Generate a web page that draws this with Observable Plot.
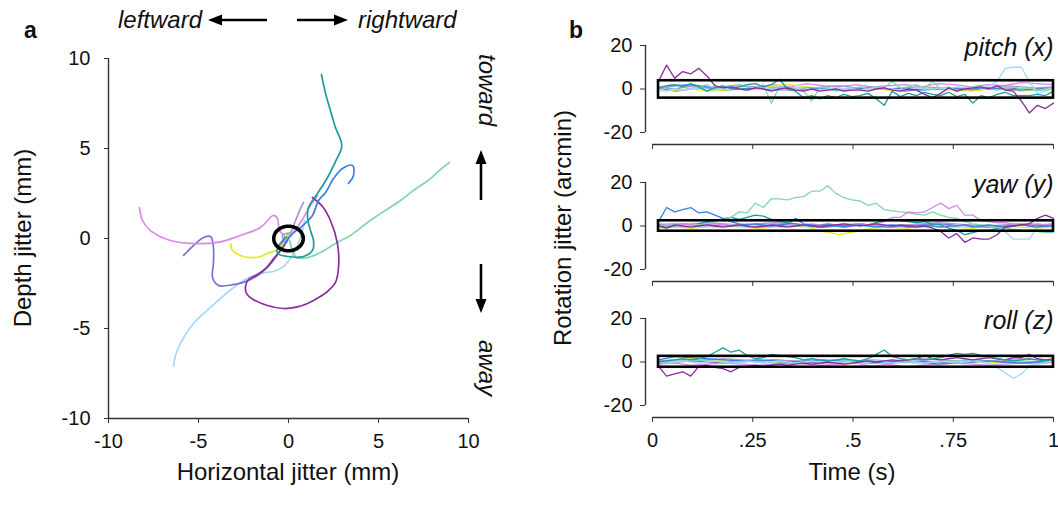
<!DOCTYPE html>
<html><head><meta charset="utf-8">
<script src="https://cdn.jsdelivr.net/npm/d3@7"></script>
<script src="https://cdn.jsdelivr.net/npm/@observablehq/plot@0.6"></script>
<style>
body{margin:0;background:#fff;}
#root{position:relative;width:1058px;height:519px;overflow:hidden;background:#fff;font-family:"Liberation Sans",Arial,sans-serif;}
#root svg{position:absolute;overflow:visible;}
</style></head>
<body><div id="root"></div>
<script>
// ---------- Panel a: trajectories (mm) ----------
const trajPurple = [[-0.06,-0.11],[-0.44,-0.67],[-0.78,-1.06],[-1.22,-1.61],[-1.72,-2.0],[-2.22,-2.28],[-2.39,-2.67],[-2.33,-3.06],[-2.0,-3.36],[-1.17,-3.72],[-0.28,-3.89],[0.5,-3.8],[1.06,-3.61],[1.72,-3.25],[2.22,-2.89],[2.61,-2.44],[2.78,-1.61],[2.72,-0.28],[2.33,1.0],[1.89,1.78],[1.33,2.28]];
const trajViolet = [[-8.28,1.72],[-8.11,1.0],[-7.67,0.44],[-6.56,-0.11],[-5.28,-0.28],[-3.94,-0.22],[-2.67,0.17],[-1.56,0.61],[-0.83,1.28],[-0.61,1.11],[-0.5,0.44],[-0.22,0.11],[-0.6,-0.6],[-0.3,-0.2],[0,0],[0.67,0.89],[1.22,1.83],[1.61,2.39]];
const trajSlate = [[-5.83,-0.94],[-5.28,-0.39],[-4.72,0.06],[-4.33,0.11],[-4.17,-0.5],[-4.17,-1.39],[-4.22,-2.17],[-3.89,-2.61],[-3.39,-2.61],[-2.5,-2.44],[-1.72,-2.06],[-1.17,-1.61],[-0.72,-1.06],[-0.28,-0.39],[0,0]];
const trajLavender = [[-0.17,-0.28],[-0.33,0.2],[0.11,0.33],[0.39,1.0],[0.67,1.67],[0.83,2.0]];
const trajYellow = [[-3.22,-0.28],[-3.11,-0.67],[-2.67,-0.94],[-2.11,-1.06],[-1.56,-1.0],[-1.17,-0.83],[-0.72,-0.67],[-0.33,-0.39],[-0.11,0.06],[-0.06,0.33],[0.06,0.11]];
const trajBlue = [[-0.2,-0.3],[0.11,0.17],[0.67,0.61],[1.33,1.28],[1.67,2.11],[2.06,2.56],[2.5,3.33],[3.0,3.89],[3.56,4.06],[3.61,3.5],[3.33,3.06]];
const trajTeal = [[-0.1,0.1],[-0.6,-0.5],[-0.6,-0.83],[-0.06,-1.0],[0.83,-1.0],[1.33,-0.67],[1.39,-0.11],[1.22,0.44],[1.06,1.17],[1.11,1.72],[1.61,2.5],[2.17,3.39],[2.72,4.5],[2.94,5.0],[2.94,5.33],[2.61,6.17],[2.33,7.11],[2.06,8.06],[1.83,9.11]];
const trajMint = [[0.06,-0.11],[0.22,-0.67],[0.44,-1.06],[1.06,-1.06],[1.78,-0.78],[2.61,-0.28],[3.44,0.17],[4.39,0.89],[5.11,1.39],[6.22,2.11],[6.94,2.67],[7.89,3.33],[8.44,3.83],[8.94,4.22]];
const trajSky = [[-6.39,-7.11],[-6.28,-6.5],[-6.0,-5.83],[-5.28,-4.72],[-4.33,-3.83],[-3.39,-3.0],[-2.5,-2.33],[-1.56,-1.94],[-0.83,-1.83],[-0.28,-1.56],[0.22,-0.94],[0.56,-0.22],[0.78,0.44],[0.89,1.0]];
const ellipseCenter = [0, 0];
const ellipseRadii = [0.82, 0.68];
const axisTicksA = [-10, -5, 0, 5, 10];

// ---------- Panel b: rotation jitter (arcmin), sampled uniformly over time ----------
const pitchPurple = [3.5,11,5,8,7,9.5,6,1.5,0.5,1, 0,-0.5,0.5,0,-1,0,0.5,-0.5,-1,0, -1,-0.5,0,-1,-0.5,-0.5,-1,0,0.5,-0.5, -1,0,-0.5,-2.5,-4,-2,0.5,-1,0,0.5, 1,0,1.5,-0.5,-1,-5.5,-11,-7.5,-9,-6.5];
const pitchTeal = [0,1.5,2,1,2.5,1,-1,0.5,1.5,0, 1,2,2.5,1,2,4.5,0,-1,-4,-3, -4.5,-3,-4,-2.5,-3.5,-3,-2,-4.5,-7.5,-1, -3.5,-2,-3,-1.5,-2.5,-3,-1.5,-3.5,-2.5,-6.5, -3,-4,-2.5,-1.5,-3,-3,-3,-2.5,-3,-1];
const pitchMint = [0,1,2,1,0,1,2,0,1,1.5, 2,1,0.5,2,-6.5,1,0.5,0,-1,-5.5, 0.5,1,-1,0,0.5,1,0,1,0.5,3.5, 0.5,1,2,0.5,3.5,0,1,-1,0,0.5, 1,0,-0.5,0,1,0,0.5,-0.5,0,0.5];
const pitchSky = [0,-1,0,-0.5,0,0.5,0,-0.5,0,0.5, 0,-0.5,0,0.5,0,0,-0.5,0,0.5,0, -0.5,0,0.5,0,0,-0.5,0,0.5,0,0, -0.5,0,0.5,0,0,0.5,0,1,0.5,1, 0.5,1.5,3.5,9.5,10,10,3.5,-2,-1,0.5];
const pitchViolet = [1,2,1,0.5,1,1.5,1,2,1,2.5,1.5,1,2,1,1.5,2,1,2.5,2,1,2,1.5,3,2.5,2];
const pitchSlate = [0.5,-1,0,0.5,-0.5,0,0.5,0,-0.5,0,0.5,-0.5,0,0.5,0,-1,0,0.5,0,-0.5,0,0.5,0,-0.5,0];
const pitchLavender = [1,0,1.5,0.5,1,0,0.5,1,0.5,0,1,1.5,0.5,1,0,0.5,1,0.5,0,1,0.5,1.5,1,0.5,1];
const pitchYellow = [-1,-0.5,0,-1,-0.5,0.5,0,1.5,2,1,0,-0.5,0.5,0,-0.5,0,0.5,0,-0.5,-1,0,0.5,-1,0,-0.5];
const pitchBlue = [0.5,1.5,2,1,0.5,0,0.5,-0.5,0,0.5,0,-0.5,0,0.5,0,0.5,-0.5,0,0.5,0,0.5,0,-0.5,0,0.5];

const yawBlue = [2,8.5,6.5,7.5,8.5,6,6.5,5,3.5,2, 1,0.5,1,0.5,0,0.5,1,3.5,1,0.5, 0,0.5,0,-0.5,0,0.5,0,-0.5,0,0.5, 0,-0.5,0,0.5,0,-0.5,0,0,0.5,-0.5, 0,0.5,0,-0.5,0,0.5,0,-0.5,0,0];
const yawMint = [0,0.5,1,0.5,1,0.5,1,2,3.5,4, 6.5,6,10.5,8.5,12.5,12.5,12,13,13.5,16, 16,18.5,15,13,12,11.5,9.5,10.5,7.5,7, 6.5,6,5.5,5,6.5,5,4,3.5,2,1, 0.5,0,-0.5,-1,-1.5,-2,-2.5,-2.5,-3,-3];
const yawViolet = [0,0.5,0,1,0.5,0,0.5,1,0.5,0, 0.5,1,0.5,0,0.5,1,0.5,0,0.5,1, 0.5,0,0.5,1,0.5,1,0.5,1,2,4, 4,6.5,6,6.5,8.5,10.5,8,9.5,5,5, 2.5,2,1.5,1.5,1,1,0.5,1,0.5,0.5];
const yawPurple = [0,-1,0.5,0,-0.5,0,0.5,0,-0.5,0, 0.5,0,-0.5,0,0.5,0,-0.5,0,0.5,0, -0.5,0,0.5,1,0.5,0,0.5,1,0.5,0, 0.5,0,-0.5,0,-1,-2.5,-5.5,-3.5,-7.5,-5.5, -6,-6,-4,-0.5,0,0.5,1,3.5,5,3.5];
const yawTeal = [0,-0.5,0,1,0.5,1,2,2.5,3,4, 3,4,5,4.5,3,2,1.5,1,0.5,0, 0.5,1,0.5,0,0.5,1,0.5,1.5,2.5,3, 2.5,2,1.5,2,1,0.5,-1,-2,-4,-3, -2,-2,-1,-0.5,0,0.5,1,0.5,0,0.5];
const yawSky = [0,0.5,0,-0.5,0,0.5,0,-0.5,0,0.5, 0,-0.5,0,0.5,0,-0.5,0,0.5,0,-0.5, 0,0.5,0,-0.5,0,0.5,0,-0.5,0,0.5, 0,-0.5,0,0.5,0,-0.5,0,0.5,0,-0.5, 0,0.5,-0.5,-2.5,-6,-6,-6,-0.5,0,0.5];
const yawYellow = [-1,-0.5,-1,-0.5,0,-0.5,-1,-0.5,0,-0.5,-2.5,-4,-2.5,-1,-0.5,-1,-0.5,0,-0.5,-1,-0.5,0,-0.5,-1,-0.5];
const yawSlate = [0.5,1,0.5,0,0.5,0,-0.5,0,0.5,0,-0.5,0,0.5,0,-0.5,0,0.5,1,0.5,0,-0.5,0,0.5,0,0.5];
const yawLavender = [1,0.5,1,1.5,1,0.5,1,1.5,1,0.5,0,0.5,1,0.5,0,0.5,1,1.5,1,0.5,0,0.5,1,0.5,1];

const rollTeal = [0,0.5,1,1.5,1,1.5,2.5,4.5,6.5,4.5, 5.5,3,1.5,2,3.5,3,2.5,2,1,1.5, 1,0.5,1,1.5,1,0.5,1.5,3.5,5.5,2.5, 1.5,1,1.5,1,1.5,2,3,4,3.5,4, 3,2.5,1.5,1,0.5,1,1.5,1,0.5,1];
const rollPurple = [-2,-6.5,-5.5,-4.5,-6.5,-2,-1.5,-2.5,-3,-4.5, -2.5,-2,-1.5,-2,-1.5,-1,-1.5,-1,-0.5,-1, -0.5,0,-0.5,-1,-0.5,0,0.5,0,0.5,1, 0.5,1,1.5,3,1.5,1,1.5,2,1.5,1, 1.5,2,1.5,1,2,2,3.5,1.5,1,1.5];
const rollSky = [0,-0.5,0,0.5,0,-0.5,0,0.5,0,-0.5, 0,0.5,0,-0.5,0,0.5,0,-0.5,0,0.5, 0,-0.5,0,0.5,0,-0.5,0,0.5,0,-0.5, 0,0.5,0,-0.5,0,0.5,0,-0.5,0,0.5, 0,-0.5,-2.5,-5,-7.5,-5.5,-2,-1,0,0.5];
const rollBlue = [1,2.5,2,1.5,1,0.5,1,0.5,0,0.5,1,0.5,0,-0.5,0,0.5,0,-1,-0.5,0,0.5,0,-0.5,0,0.5];
const rollViolet = [-1,-0.5,-1.5,-1,-0.5,-1,-1.5,-1,-0.5,-1,-1.5,-1,-0.5,-2,-1,-2.5,-1.5,-1,-0.5,-1,-1.5,-1,-0.5,-1,0];
const rollYellow = [0.5,1,1.5,1,0.5,1,0.5,0,-0.5,0,-0.5,-1,-0.5,0,0.5,0,-0.5,0,0.5,0,-0.5,0,0.5,0,0.5];
const rollSlate = [-0.5,0,0.5,0,-0.5,0,0.5,1,0.5,0,-0.5,0,0.5,0,-0.5,0,0.5,0,-0.5,0,0.5,0,-0.5,0,0];
const rollLavender = [0.5,1,0.5,1,1.5,1,0.5,1,0.5,0,0.5,1,0.5,1,0.5,1,1.5,1,0.5,1,0.5,1,1.5,1,0.5];
const rollMint = [0,0.5,1,0.5,0,0.5,0,-0.5,0,0.5,0,1,0.5,0,0.5,0,-0.5,0,0.5,1,0.5,0,0.5,0,0.5];

// Black boxes: [t start, t end, lower, upper]
const pitchBox = [0.015, 1.0, -4.2, 3.8];
const yawBox = [0.015, 1.0, -2.4, 2.4];
const rollBox = [0.015, 1.0, -2.4, 2.6];
const sampleStart = 0.015;
const timeTicks = [0, 0.25, 0.5, 0.75, 1];
const timeTickLabels = ["0", ".25", ".5", ".75", "1"];
const rotTicks = [-20, 0, 20];

// ---------- styling ----------
const COLORS = {purple:"#8a2c9c", violet:"#d98ae6", slate:"#7b70cf", lavender:"#a893d9", yellow:"#dfee14", blue:"#3b7fe3", teal:"#1d9c9c", mint:"#80d6b3", sky:"#a3d9f5"};
const FONT = '"Liberation Sans", Arial, sans-serif';
const root = document.getElementById("root");
function place(el, left, top){ el.style.left = left + "px"; el.style.top = top + "px"; root.appendChild(el); }

// ---------- Panel a ----------
const trajectories = [["sky",trajSky],["mint",trajMint],["slate",trajSlate],["violet",trajViolet],["yellow",trajYellow],["purple",trajPurple],["lavender",trajLavender],["blue",trajBlue],["teal",trajTeal]];
const trajRows = trajectories.flatMap(([name, pts]) => pts.map(([x, y]) => ({name, x, y, c: COLORS[name]})));
const ellipseRows = d3.range(0, 361, 6).map(a => ({x: ellipseCenter[0] + ellipseRadii[0]*Math.cos(a*Math.PI/180), y: ellipseCenter[1] + ellipseRadii[1]*Math.sin(a*Math.PI/180)}));

const plotA = Plot.plot({
  width: 500, height: 519,
  marginLeft: 108, marginRight: 32, marginTop: 58, marginBottom: 101,
  x: {domain: [-10, 10]}, y: {domain: [-10, 10]},
  color: {type: "identity"},
  style: {fontFamily: FONT, fontSize: "20px", color: "#111", background: "transparent"},
  marks: [
    Plot.ruleX([-10], {y1: -10, y2: 10, stroke: "#333", strokeWidth: 1.4}),
    Plot.ruleY([-10], {x1: -10, x2: 10, stroke: "#333", strokeWidth: 1.4}),
    Plot.axisX({ticks: axisTicksA, tickSize: 5, tickPadding: 10, tickFormat: d => String(d), label: null, fontSize: 20, stroke: "#333"}),
    Plot.axisY({ticks: axisTicksA, tickSize: 4, tickPadding: 14, tickFormat: d => String(d), label: null, fontSize: 20, stroke: "#333"}),
    Plot.line(trajRows, {x: "x", y: "y", z: "name", stroke: "c", curve: "catmull-rom", strokeWidth: 1.7}),
    Plot.line(ellipseRows, {x: "x", y: "y", stroke: "#000", strokeWidth: 3.6, curve: "catmull-rom-closed"})
  ]
});
place(plotA, 0, 0);

// ---------- Panel b ----------
function seriesRows(entries){
  return entries.flatMap(([name, vals]) => vals.map((v, i) => ({name, t: sampleStart + i*(1 - sampleStart)/(vals.length - 1), v, c: COLORS[name]})));
}
function rotPlot(entries, box, label, withTickLabels, top){
  const h = withTickLabels ? 246 : 160;
  const p = Plot.plot({
    width: 498, height: h,
    marginLeft: 85, marginRight: 5, marginTop: 45, marginBottom: h - 144 - 0,
    x: {domain: [0, 1], insetLeft: 7}, y: {domain: [-20, 20], insetBottom: 12},
    color: {type: "identity"},
    style: {fontFamily: FONT, fontSize: "20px", color: "#111", background: "transparent"},
    marks: [
      Plot.ruleX([0], {y1: -20, y2: 20, dx: -7, stroke: "#333", strokeWidth: 1.4}),
      Plot.ruleY([-20], {x1: 0, x2: 1, dy: 12, stroke: "#333", strokeWidth: 1.4}),
      Plot.axisY({ticks: rotTicks, tickSize: 5, tickPadding: 8, tickFormat: d => String(d), label: null, fontSize: 20, stroke: "#333"}),
      Plot.axisX({ticks: timeTicks, tickSize: 5, tickPadding: 10, tickFormat: (d, i) => withTickLabels ? timeTickLabels[timeTicks.indexOf(d)] : "", label: null, fontSize: 20, stroke: "#333"}),
      Plot.line(seriesRows(entries), {x: "t", y: "v", z: "name", stroke: "c", strokeWidth: 1.3}),
      Plot.rect([box], {x1: d => d[0], x2: d => d[1], y1: d => d[2], y2: d => d[3], fill: "none", stroke: "#000", strokeWidth: 2.6}),
      Plot.text([label], {frameAnchor: "top-right", textAnchor: "end", lineAnchor: "middle", dy: 2, fontSize: 25, fontStyle: "italic", fill: "#111"})
    ]
  });
  place(p, 560, top);
}
rotPlot([["violet",pitchViolet],["slate",pitchSlate],["lavender",pitchLavender],["yellow",pitchYellow],["blue",pitchBlue],["mint",pitchMint],["sky",pitchSky],["teal",pitchTeal],["purple",pitchPurple]], pitchBox, "pitch (x)", false, 0);
rotPlot([["yellow",yawYellow],["slate",yawSlate],["lavender",yawLavender],["sky",yawSky],["teal",yawTeal],["mint",yawMint],["violet",yawViolet],["blue",yawBlue],["purple",yawPurple]], yawBox, "yaw (y)", false, 137);
rotPlot([["yellow",rollYellow],["slate",rollSlate],["lavender",rollLavender],["mint",rollMint],["violet",rollViolet],["blue",rollBlue],["sky",rollSky],["purple",rollPurple],["teal",rollTeal]], rollBox, "roll (z)", true, 273);

// ---------- annotations ----------
const ns = "http://www.w3.org/2000/svg";
const ov = document.createElementNS(ns, "svg");
ov.setAttribute("width", 1058); ov.setAttribute("height", 519);
ov.style.pointerEvents = "none";
ov.style.fontFamily = FONT;
function txt(s, x, y, o = {}){
  const t = document.createElementNS(ns, "text");
  t.textContent = s;
  t.setAttribute("x", 0); t.setAttribute("y", 0);
  t.setAttribute("transform", `translate(${x},${y}) rotate(${o.rot || 0})`);
  t.setAttribute("font-size", o.size || 24);
  t.setAttribute("text-anchor", o.anchor || "middle");
  if (o.italic) t.setAttribute("font-style", "italic");
  if (o.bold) t.setAttribute("font-weight", "bold");
  t.setAttribute("fill", "#111");
  ov.appendChild(t);
}
function arrow(x1, y1, x2, y2){
  const len = Math.hypot(x2 - x1, y2 - y1), ux = (x2 - x1)/len, uy = (y2 - y1)/len;
  const hl = 14, hw = 5.5;
  const bx = x2 - ux*hl, by = y2 - uy*hl;
  const line = document.createElementNS(ns, "line");
  line.setAttribute("x1", x1); line.setAttribute("y1", y1); line.setAttribute("x2", bx); line.setAttribute("y2", by);
  line.setAttribute("stroke", "#000"); line.setAttribute("stroke-width", 2.6);
  ov.appendChild(line);
  const p = document.createElementNS(ns, "path");
  p.setAttribute("d", `M${x2},${y2}L${bx - uy*hw},${by + ux*hw}L${bx + uy*hw},${by - ux*hw}Z`);
  p.setAttribute("fill", "#000");
  ov.appendChild(p);
}
txt("a", 24, 38, {size: 23, bold: true, anchor: "start"});
txt("b", 569, 38, {size: 23, bold: true, anchor: "start"});
txt("leftward", 202, 28, {italic: true, anchor: "end"});
txt("rightward", 358, 28, {italic: true, anchor: "start"});
arrow(267, 20, 208, 20);
arrow(297, 20, 348, 20);
txt("toward", 479, 90, {italic: true, rot: 90});
txt("away", 479, 368, {italic: true, rot: 90});
arrow(481, 200, 481, 150);
arrow(481, 264, 481, 313);
txt("Depth jitter (mm)", 31, 238, {rot: -90});
txt("Horizontal jitter (mm)", 288, 480);
txt("Rotation jitter (arcmin)", 571, 228, {rot: -90});
txt("Time (s)", 852, 480);
place(ov, 0, 0);
</script></body></html>
